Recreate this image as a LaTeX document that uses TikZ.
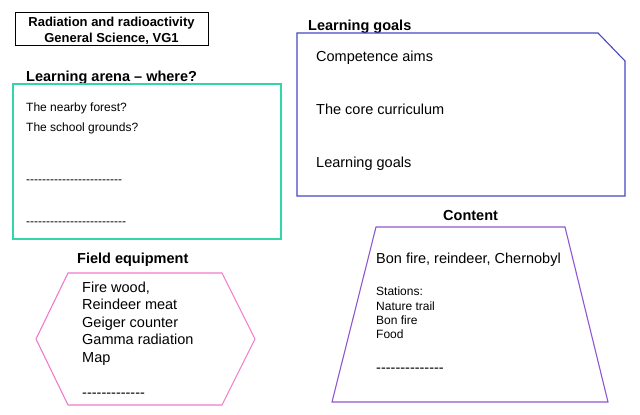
\documentclass[tikz,border=0pt]{standalone}
\usepackage{fontspec}
\setmainfont{Liberation Sans}
\definecolor{teal1}{RGB}{51,214,166}
\definecolor{blue1}{RGB}{71,71,194}
\definecolor{pink1}{RGB}{240,122,203}
\definecolor{purple1}{RGB}{144,85,208}
\newcommand\dashrow[1]{\foreach \i in {1,...,#1}{-\kern0pt}}
\begin{document}
\begin{tikzpicture}[x=1pt,y=-1pt,
  big/.style={anchor=base west,inner sep=0pt,font=\fontsize{14.5}{17}\selectfont},
  small/.style={anchor=base west,inner sep=0pt,font=\fontsize{12}{14}\selectfont},
  head/.style={anchor=base west,inner sep=0pt,font=\fontsize{14.5}{17}\selectfont\bfseries},
  shapeline/.style={line width=1.1pt,line join=miter}]
\useasboundingbox (0,0) rectangle (640,415);
% title
\draw[line width=1pt] (15,12) rectangle (208,45);
\node[anchor=base,inner sep=0pt,font=\fontsize{13}{16}\selectfont\bfseries] (t1) at (111.5,26) {Radiation and radioactivity};
\node[anchor=base,inner sep=0pt,font=\fontsize{13}{16}\selectfont\bfseries] (t2) at (111.5,42) {General Science, VG1};
% learning arena
\node[head] (ha) at (26,81) {Learning arena – where?};
\draw[shapeline,teal1] (13,84) rectangle (281,239);
\node[small] (a1) at (26,111.5) {The nearby forest?};
\node[small] (a2) at (26,131.5) {The school grounds?};
\node[small] (a3) at (26,183.5) {\dashrow{24}};
\node[small] (a4) at (26,225) {\dashrow{25}};
% learning goals
\node[head] (hg) at (308,30.5) {Learning goals};
\draw[shapeline,blue1] (297,33) -- (598,33) -- (625,61) -- (625,196) -- (297,196) -- cycle;
\node[big] (g1) at (316,61.5) {Competence aims};
\node[big] (g2) at (316,114) {The core curriculum};
\node[big] (g3) at (316,167) {Learning goals};
% field equipment
\node[head] (hf) at (77,263.3) {Field equipment};
\draw[shapeline,pink1] (68,273) -- (222,273) -- (255,339) -- (222,405) -- (68,405) -- (36,339) -- cycle;
\node[big] (f1) at (82,292.3) {Fire wood,};
\node[big] (f2) at (82,309.8) {Reindeer meat};
\node[big] (f3) at (82,327.3) {Geiger counter};
\node[big] (f4) at (82,344.8) {Gamma radiation};
\node[big] (f5) at (82,362.3) {Map};
\node[big] (f6) at (82,397) {\dashrow{13}};
% content
\node[head] (hc) at (443,220.7) {Content};
\draw[shapeline,purple1] (376,227) -- (565,227) -- (608,402) -- (332,402) -- cycle;
\node[big] (c1) at (376,263.3) {Bon fire, reindeer, Chernobyl};
\node[small] (c2) at (376,295.7) {Stations:};
\node[small] (c3) at (376,310) {Nature trail};
\node[small] (c4) at (376,324.3) {Bon fire};
\node[small] (c5) at (376,338.6) {Food};
\node[big] (c6) at (376,372.5) {\dashrow{14}};
\end{tikzpicture}
\end{document}
